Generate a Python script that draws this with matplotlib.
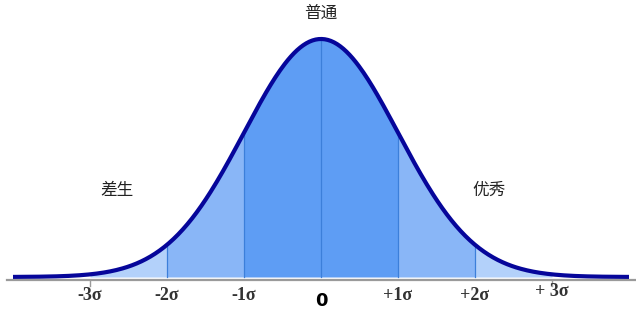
import numpy as np
import matplotlib.pyplot as plt

plt.rcParams['font.family'] = ['Noto Sans CJK SC', 'DejaVu Sans']

# data
sigma_pos = [-3, -2, -1, 0, 1, 2, 3]
tick_labels = ['-3σ', '-2σ', '-1σ', '0', '+1σ', '+2σ', '+ 3σ']
band_edges = [-3, -2, -1, 1, 2, 3]
band_colors = ['#B3D1FA', '#89B6F7', '#5E9DF4', '#89B6F7', '#B3D1FA']
region_names = ['差生', '普通', '优秀']
region_x = [-2.65, 0, 2.18]
region_y = [0.145, 0.442, 0.145]

def kurva(x):
    return np.exp(-x ** 2 / 2) / np.sqrt(2 * np.pi)

fig = plt.figure(figsize=(6.36, 3.17), dpi=100)
ax = fig.add_axes([0, 0, 1, 1])
ax.set_xlim(-321 / 77, 315 / 77)
ax.set_ylim(-40 / 596.6, 277 / 596.6)
ax.axis('off')

# 1. isi warna tiap pita sigma
for i in range(len(band_edges) - 1):
    xs = np.linspace(band_edges[i], band_edges[i + 1], 100)
    ax.fill_between(xs, 0, kurva(xs), color=band_colors[i], lw=0)

# 2. garis vertikal di tiap sigma
for s in [-2, -1, 0, 1, 2]:
    ax.plot([s, s], [0, kurva(s)], color='#3C7FDA', lw=0.9)

# 3. kurva utama
xs = np.linspace(-4.0, 4.0, 400)
ax.plot(xs, kurva(xs), color='#06069A', lw=3.0, solid_capstyle='butt')

# 4. sumbu x
ax.plot([-314 / 77, 315 / 77], [-3 / 596.6, -3 / 596.6], color='#9A9A9A', lw=1.6)
for s in [-3, 3]:
    ax.plot([s, s], [-3 / 596.6, -9 / 596.6], color='#9A9A9A', lw=1)

# 5. label
for s, lab in zip(sigma_pos, tick_labels):
    if lab == '0':
        ax.text(s, -24 / 596.6, lab, ha='center', va='center', fontsize=13,
                fontweight='bold', family='DejaVu Sans', color='black')
    else:
        yy = -15 / 596.6 if s == 3 else -19 / 596.6
        ax.text(s, yy, lab, ha='center', va='center', fontsize=13,
                fontweight='bold', family='Liberation Serif', color='#333333')

for nm, x, y in zip(region_names, region_x, region_y):
    ax.text(x, y, nm, ha='center', va='center', fontsize=12, color='#222222')

fig.savefig('out.png', dpi=100)
